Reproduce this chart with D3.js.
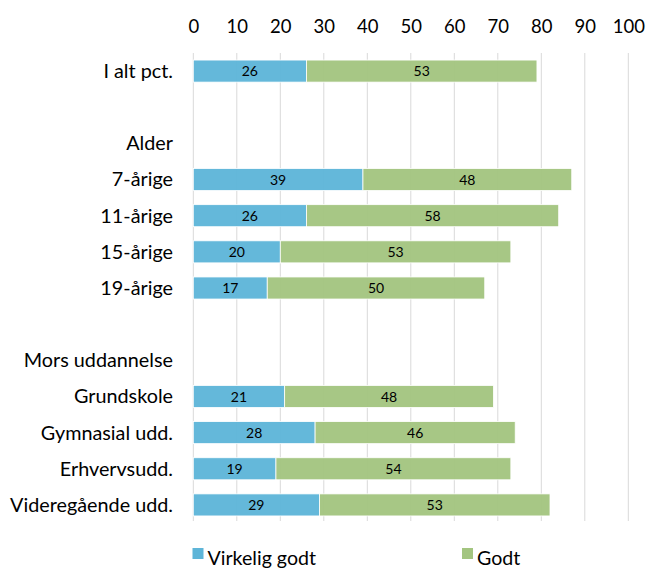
<!DOCTYPE html>
<html><head><meta charset="utf-8">
<script src="https://cdn.jsdelivr.net/npm/d3@7"></script>
<style>body{margin:0;background:#fff}svg{display:block;font-family:Lato,"Open Sans",sans-serif}</style>
</head><body>
<svg id="c" width="647" height="569"></svg>
<script>
const categories = ["I alt pct.","","Alder","7-årige","11-årige","15-årige","19-årige","","Mors uddannelse","Grundskole","Gymnasial udd.","Erhvervsudd.","Videregående udd."];
const rowIds = categories.map((c,i)=>"r"+i);
const virkeligGodt = [26,null,null,39,26,20,17,null,null,21,28,19,29];
const godt = [53,null,null,48,58,53,50,null,null,48,46,54,53];
const tickValues = [0,10,20,30,40,50,60,70,80,90,100];
const seriesNames = ["Virkelig godt","Godt"];
const colors = ["#5eb5d8","#a3c580"];

const svg = d3.select("#c");
const x = d3.scaleLinear().domain([0,100]).range([193.3,628.3]);
const y = d3.scaleBand().domain(rowIds).range([53,523]).paddingInner(0.39).paddingOuter(0.195);

// gridlines
svg.append("g").selectAll("line").data(tickValues).join("line")
  .attr("x1",d=>x(d)).attr("x2",d=>x(d)).attr("y1",53).attr("y2",521)
  .attr("stroke","#d9d9d9").attr("stroke-width",1);

// axis labels
const ax = svg.append("g").attr("transform","translate(0,33)")
  .call(d3.axisTop(x).tickValues(tickValues).tickSize(0).tickPadding(0));
ax.select(".domain").remove();
ax.selectAll("text").attr("font-size",18.5).attr("fill","#000").attr("font-family","Lato");

// category labels
svg.append("g").selectAll("text").data(categories).join("text")
  .attr("x",173).attr("y",(d,i)=>y(rowIds[i])+y.bandwidth()/2).attr("dy","0.35em")
  .attr("text-anchor","end").attr("font-size",19.8).attr("fill","#000").text(d=>d);

// bars
const rows = categories.map((c,i)=>({id:rowIds[i],a:virkeligGodt[i],b:godt[i]})).filter(d=>d.a!=null);
const g = svg.append("g");
rows.forEach(d=>{
  const segs=[{s:0,e:d.a,v:d.a,c:colors[0]},{s:d.a,e:d.a+d.b,v:d.b,c:colors[1]}];
  segs.forEach(s=>{
    g.append("rect").attr("x",x(s.s)).attr("y",y(d.id)).attr("width",x(s.e)-x(s.s)).attr("height",y.bandwidth())
      .attr("fill",s.c).attr("fill-opacity",0.96).attr("stroke","#fff").attr("stroke-width",0.8);
    g.append("text").attr("x",(x(s.s)+x(s.e))/2).attr("y",y(d.id)+y.bandwidth()/2).attr("dy","0.36em")
      .attr("text-anchor","middle").attr("font-size",14).attr("fill","#000").text(s.v);
  });
});

// legend
const legX=[192.5,462];
const lg = svg.append("g");
seriesNames.forEach((n,i)=>{
  lg.append("rect").attr("x",legX[i]).attr("y",548).attr("width",11).attr("height",11).attr("fill",colors[i]);
  lg.append("text").attr("x",legX[i]+15).attr("y",565).attr("font-size",19.6).attr("fill","#000").text(n);
});
</script>
</body></html>
